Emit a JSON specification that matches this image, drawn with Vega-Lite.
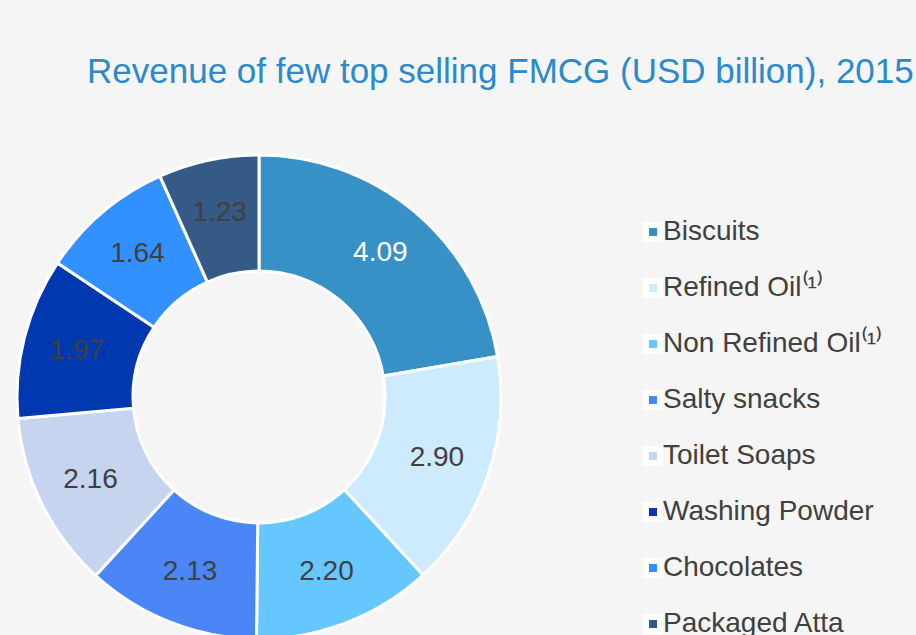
{
  "$schema": "https://vega.github.io/schema/vega-lite/v6.json",
  "width": 476,
  "height": 476,
  "autosize": {"type": "none"},
  "padding": {"left": 21, "top": 159, "right": 419, "bottom": 0},
  "background": "#f5f5f5",
  "title": {
    "text": "Revenue of few top selling FMCG (USD billion), 2015",
    "anchor": "start",
    "dx": 76,
    "offset": 59,
    "fontSize": 35,
    "font": "Liberation Sans",
    "fontWeight": "normal",
    "color": "#2B8ACB"
  },
  "data": {
    "values": [
      {"idx": 1, "category": "Biscuits", "revenue": 4.09},
      {"idx": 2, "category": "Refined Oil⁽¹⁾", "revenue": 2.90},
      {"idx": 3, "category": "Non Refined Oil⁽¹⁾", "revenue": 2.20},
      {"idx": 4, "category": "Salty snacks", "revenue": 2.13},
      {"idx": 5, "category": "Toilet Soaps", "revenue": 2.16},
      {"idx": 6, "category": "Washing Powder", "revenue": 1.97},
      {"idx": 7, "category": "Chocolates", "revenue": 1.64},
      {"idx": 8, "category": "Packaged Atta", "revenue": 1.23}
    ]
  },
  "encoding": {
    "theta": {"field": "revenue", "type": "quantitative", "stack": true},
    "order": {"field": "idx", "type": "quantitative"}
  },
  "layer": [
    {
      "mark": {"type": "arc", "outerRadius": 242, "innerRadius": 126, "stroke": "white", "strokeWidth": 3},
      "encoding": {
        "color": {
          "field": "category",
          "type": "nominal",
          "sort": null,
          "scale": {
            "domain": ["Biscuits", "Refined Oil⁽¹⁾", "Non Refined Oil⁽¹⁾", "Salty snacks", "Toilet Soaps", "Washing Powder", "Chocolates", "Packaged Atta"],
            "range": ["#3891C6", "#CDEBFD", "#66C7FF", "#4A86F5", "#C6D4F0", "#0038B0", "#3390FF", "#355A85"]
          },
          "legend": {
            "title": null,
            "orient": "none",
            "legendX": 618,
            "legendY": 59,
            "symbolType": "square",
            "symbolSize": 196,
            "symbolStrokeColor": "white",
            "symbolStrokeWidth": 6,
            "labelFontSize": 28,
            "labelFont": "Liberation Sans",
            "labelColor": "#404040",
            "labelOffset": -4,
            "labelLimit": 400,
            "rowPadding": 18
          }
        }
      }
    },
    {
      "mark": {"type": "text", "radius": 188, "fontSize": 28, "font": "Liberation Sans"},
      "encoding": {
        "text": {"field": "revenue", "type": "quantitative", "format": ".2f"},
        "color": {"condition": {"test": "datum.category === 'Biscuits'", "value": "white"}, "value": "#404040"}
      }
    }
  ],
  "config": {"view": {"stroke": null}}
}
